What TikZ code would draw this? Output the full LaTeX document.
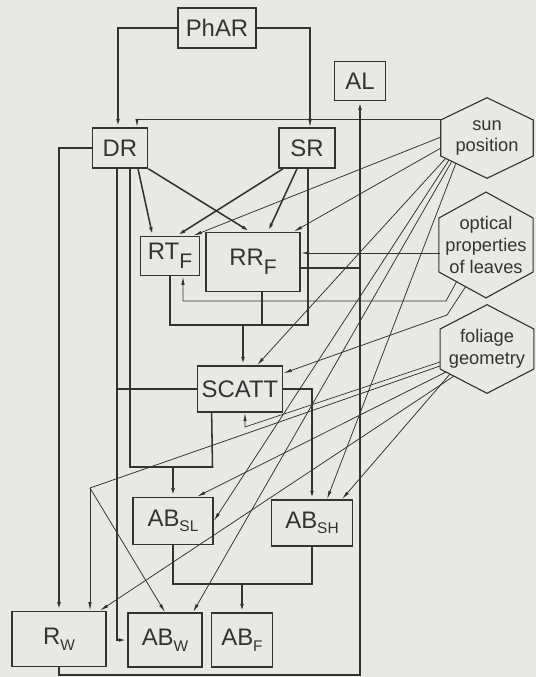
\documentclass[tikz,border=0pt]{standalone}
\usepackage{fontspec}
\setmainfont{Liberation Sans}
\usepackage{xcolor}
\usetikzlibrary{arrows.meta, positioning, calc}
\definecolor{ink}{HTML}{333333}
\definecolor{paper}{HTML}{E8E8E5}
\newcommand{\bigsub}[1]{\raisebox{-0.75ex}{\fontsize{15}{15}\selectfont #1}}
\newcommand{\smallsub}[1]{\raisebox{-0.45ex}{\fontsize{11}{11}\selectfont #1}}

\begin{document}
\begin{tikzpicture}[
  x=0.025cm, y=-0.025cm,
  box/.style={draw=ink, line width=1.1pt, inner sep=0pt, align=center, text=ink, font=\fontsize{17}{20}\selectfont},
  hexa/.style={inner sep=0pt, align=center, text=ink, font=\fontsize{13}{15.5}\selectfont},
  arr/.style={-{Latex[length=6pt,width=2.6pt]}, line width=1.1pt, ink},
  link/.style={line width=1.1pt, ink},
  ray/.style={-{Latex[length=6pt,width=2.4pt]}, line width=0.55pt, ink},
]
\fill[paper] (0,0) rectangle (536,677);
\useasboundingbox (0,0) rectangle (536,677);

% Boxes
\node[box, minimum width=1.95cm, minimum height=1cm] (phar) at (217,28) {PhAR};
\node[box, minimum width=1.28cm, minimum height=0.98cm] (al) at (360,81) {AL};
\node[box, minimum width=1.38cm, minimum height=1cm] (dr) at (120,148) {DR};
\node[box, minimum width=1.4cm, minimum height=1cm] (sr) at (307,148) {SR};
\node[box, minimum width=1.48cm, minimum height=0.98cm] (rtf) at (170,256) {RT\bigsub{F}};
\node[box, minimum width=2.35cm, minimum height=1.48cm] (rrf) at (253,262) {RR\bigsub{F}};
\node[box, minimum width=2.13cm, minimum height=1.15cm] (scatt) at (240,389) {SCATT};
\node[box, minimum width=2cm, minimum height=1.18cm] (absl) at (173,521) {AB\smallsub{SL}};
\node[box, minimum width=2.03cm, minimum height=1.15cm] (absh) at (312,523) {AB\smallsub{SH}};
\node[box, minimum width=2.35cm, minimum height=1.38cm] (rw) at (59,639) {R\smallsub{W}};
\node[box, minimum width=1.85cm, minimum height=1.35cm] (abw) at (165,640) {AB\smallsub{W}};
\node[box, minimum width=1.53cm, minimum height=1.35cm] (abf) at (242,640) {AB\smallsub{F}};

% Inputs
\node[hexa, minimum width=2.3cm, minimum height=2cm] (sun) at (487,138) {sun\\position};
\node[hexa, minimum width=2.34cm, minimum height=2.63cm] (optic) at (486,245) {optical\\properties\\of leaves};
\node[hexa, minimum width=2.33cm, minimum height=2.2cm] (foliage) at (487,349) {foliage\\geometry};
\foreach \h/\s in {sun/18, optic/27, foliage/20}
  \draw[line width=0.8pt, ink] (\h.north) -- ($(\h.east)+(0,-\s)$) -- ($(\h.east)+(0,\s)$)
    -- (\h.south) -- ($(\h.west)+(0,\s)$) -- ($(\h.west)+(0,-\s)$) -- cycle;

% Ray ends
\coordinate (s0) at (441,119);
\coordinate (s1) at (441,137);
\coordinate (s2) at (441,148);
\coordinate (s3) at (446,158);
\coordinate (s4) at (449,160);
\coordinate (s5) at (452,161);
\coordinate (s6) at (456,163);
\coordinate (o1) at (440,253);
\coordinate (o2) at (457,281);
\coordinate (ob) at (446,301);
\coordinate (o3) at (466,286);
\coordinate (oc) at (447,315);
\coordinate (f1) at (440,362);
\coordinate (f2) at (440,366);
\coordinate (f3) at (446,372);
\coordinate (f4) at (450,374);
\coordinate (f5) at (454,376);
\coordinate (jsc) at (245,427);
\coordinate (jf) at (90,488);

% Junctions
\coordinate (drl) at ($(dr.south)+(-3,0)$);
\coordinate (m1) at (243,325);
\coordinate (kb) at (212.5,467);
\coordinate (m3) at (242,584);
\coordinate (rb) at (360,675);

% Main flow
\draw[arr] (phar.west) -| ($(dr.north)+(-2,0)$);
\draw[arr] (phar.east) -| ($(sr.north)+(3,0)$);
\draw[arr] (dr.west) -| (rw.north);
\draw[arr] (drl) |- (abw.west);
\draw[arr] ($(dr.south)+(18,0)$) -- ($(rtf.north west)+(13,0)$);
\draw[arr] (dr.south east) -- ($(rrf.north)+(-3,0)$);
\draw[arr] ($(sr.south)+(-24,0)$) -- ($(rtf.north)+(7,0)$);
\draw[arr] ($(sr.south)+(-10,0)$) -- ($(rrf.north)+(15,0)$);
\draw[link] ($(sr.south)+(1,0)$) |- (m1) -| (rtf.south);
\draw[link] ($(rrf.south)+(9,0)$) |- (m1);
\draw[arr] (m1) -- (m1 |- scatt.north);
\draw[link] (scatt.west) -- (scatt.west -| drl);
\draw[link] ($(dr.south)+(10,0)$) |- (kb) -- ($(scatt.south west)+(15,0)$);
\draw[arr] (absl.north |- kb) -- (absl.north);
\draw[arr] (scatt.east) -| (absh.north);
\draw[link] (absl.south) |- (m3) -| (absh.south);
\draw[arr] (m3) -- (abf.north);
\draw[arr] (rw.south) |- (rb) -- (al.south);
\draw[link] ($(rrf.east)+(0,6)$) -| (rb);

% Sun position
\draw[ray] (s0) -| ($(dr.north)+(17,0)$);
\draw[ray] (s0) -| ($(sr.north)+(3,0)$);
\coordinate (tRT) at ($(rtf.north east)+(-7,0)$);
\coordinate (tRR) at ($(rrf.north east)+(-7,0)$);
\coordinate (tSC) at ($(scatt.north)+(17,0)$);
\coordinate (tSL) at (absl.east);
\coordinate (tW) at ($(abw.north)+(28,0)$);
\coordinate (tSH) at ($(absh.north)+(15,0)$);
\foreach \a/\b in {s1/tRT, s2/tRR, s3/tSC, s4/tSL, s5/tW, s6/tSH}
  \draw[ray] (\a) -- (\b);

% Optical properties
\draw[ray] (o1) -- (o1 -| rrf.east);
\draw[ray] (o2) -- (ob) -| ($(rtf.south)+(13,0)$);
\draw[ray] (o3) -- (oc) -- ($(scatt.north east)+(0,8)$);

% Foliage geometry
\draw[ray] (f1) -- (jsc) -- (scatt.south -| jsc);
\draw[line width=0.55pt, ink] (f2) -- (jf);
\draw[ray] (jf) -- (jf |- rw.north);
\draw[ray] (jf) -- (abw.north);
\draw[ray] (f3) -- ($(absl.north)+(24,0)$);
\draw[ray] (f4) -- ($(absh.north)+(30,0)$);
\draw[ray] (f5) -- ($(rw.north)+(41,0)$);

\end{tikzpicture}
\end{document}
